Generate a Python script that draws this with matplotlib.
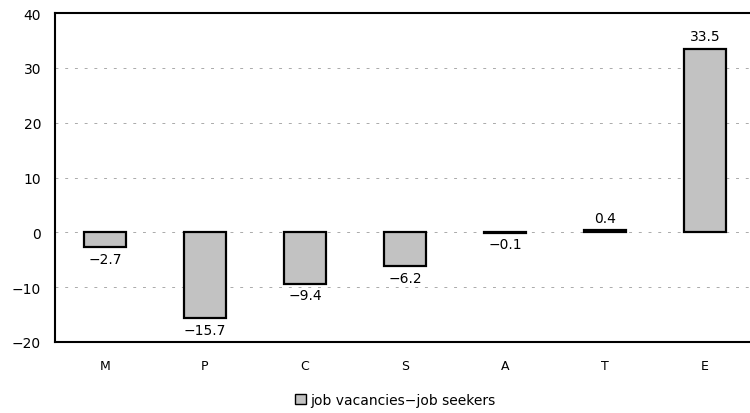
import matplotlib.pyplot as plt
from matplotlib.patches import Patch

# data
categories = ["M", "P", "C", "S", "A", "T", "E"]
values = [-2.7, -15.7, -9.4, -6.2, -0.1, 0.4, 33.5]
value_labels = ["\u22122.7", "\u221215.7", "\u22129.4", "\u22126.2", "\u22120.1", "0.4", "33.5"]
yticks = [-20, -10, 0, 10, 20, 30, 40]
ytick_labels = ["\u221220", "\u221210", "0", "10", "20", "30", "40"]
series_name = "job vacancies\u2212job seekers"

plt.rcParams['font.family'] = ['DejaVu Sans']

fig = plt.figure(figsize=(7.5, 4.14), dpi=100)
ax = fig.add_axes([55/750, 71/414, 700/750, 329/414])

x = range(len(categories))
ax.bar(x, values, width=0.42, color="#c2c2c2", edgecolor="black",
       linewidth=1.6, zorder=3)

for xi, v, lab in zip(x, values, value_labels):
    if v < 0:
        ax.text(xi, v - 0.8, lab, ha="center", va="top", fontsize=10)
    else:
        ax.text(xi, v + 1.0, lab, ha="center", va="bottom", fontsize=10)

ax.set_xlim(-0.5, 6.5)
ax.set_ylim(-20, 40)
ax.set_yticks(yticks)
ax.set_yticklabels(ytick_labels, fontsize=10)
ax.set_xticks(list(x))
ax.set_xticklabels(categories, fontsize=9)
ax.tick_params(length=0, pad=10)
ax.tick_params(axis="x", pad=12)
ax.grid(axis="y", linestyle=(0, (3, 7)), color="#aaaaaa", linewidth=0.7, zorder=0)
for s in ax.spines.values():
    s.set_linewidth(1.5)
ax.spines["right"].set_visible(False)

handle = Patch(facecolor="#c2c2c2", edgecolor="black", label=series_name)
fig.legend(handles=[handle], loc="center", bbox_to_anchor=(395/750, 1 - 401/414),
           frameon=False, fontsize=10, handlelength=0.8, handleheight=0.8,
           handletextpad=0.3)

fig.savefig("out.png", dpi=100)
